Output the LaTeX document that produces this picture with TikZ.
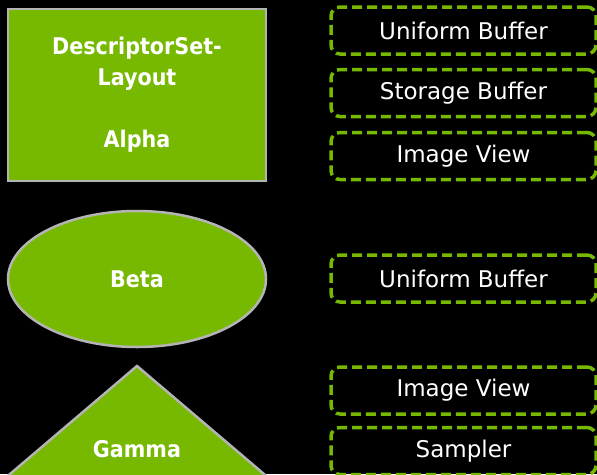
\documentclass[tikz,border=0pt]{standalone}
\usepackage{fontspec}
\setmainfont{DejaVu Sans}
\newfontfamily\boldcond{DejaVu Sans Condensed}[BoldFont={DejaVu Sans Condensed Bold}]
\usetikzlibrary{shapes.geometric}
\definecolor{nvgreen}{HTML}{76B900}
\definecolor{edgegrey}{HTML}{B4B4B4}
\tikzset{
  shapefill/.style={fill=nvgreen, draw=edgegrey, line width=2.5pt},
  shapetext/.style={text=white, font=\boldcond\bfseries\fontsize{23}{31}\selectfont, align=center},
  slotbox/.style={draw=nvgreen, line width=3.5pt, dash pattern=on 10pt off 5pt, rounded corners=9pt,
    minimum width=265pt, minimum height=47pt, inner sep=0pt,
    text=white, font=\fontsize{23}{27}\selectfont},
}
\begin{document}
\begin{tikzpicture}[x=1pt,y=-1pt]
\fill[black] (0,0) rectangle (597,474);
\useasboundingbox (0,0) rectangle (597,474);
\node[shapefill, shapetext, rectangle, minimum width=258pt, minimum height=172pt, inner sep=0pt] (alpha) at (137,95) {DescriptorSet-\\Layout\\[31pt]Alpha};
\node[shapefill, shapetext, ellipse, minimum width=258pt, minimum height=136pt, inner sep=0pt] (beta) at (137,279) {Beta};
\begin{scope}
\clip (0,0) rectangle (597,474);
\draw[shapefill] (137,366) -- (318,520) -- (-44,520) -- cycle;
\end{scope}
\node[shapetext] (gamma) at (137,449) {Gamma};
\node[slotbox] (ub1) at (463.5,30.5) {Uniform Buffer};
\node[slotbox] (sb1) at (463.5,93) {Storage Buffer};
\node[slotbox] (iv1) at (463.5,156) {Image View};
\node[slotbox] (ub2) at (463.5,278.5) {Uniform Buffer};
\node[slotbox] (iv2) at (463.5,390.5) {Image View};
\node[slotbox] (smp) at (463.5,451) {Sampler};
\end{tikzpicture}
\end{document}
